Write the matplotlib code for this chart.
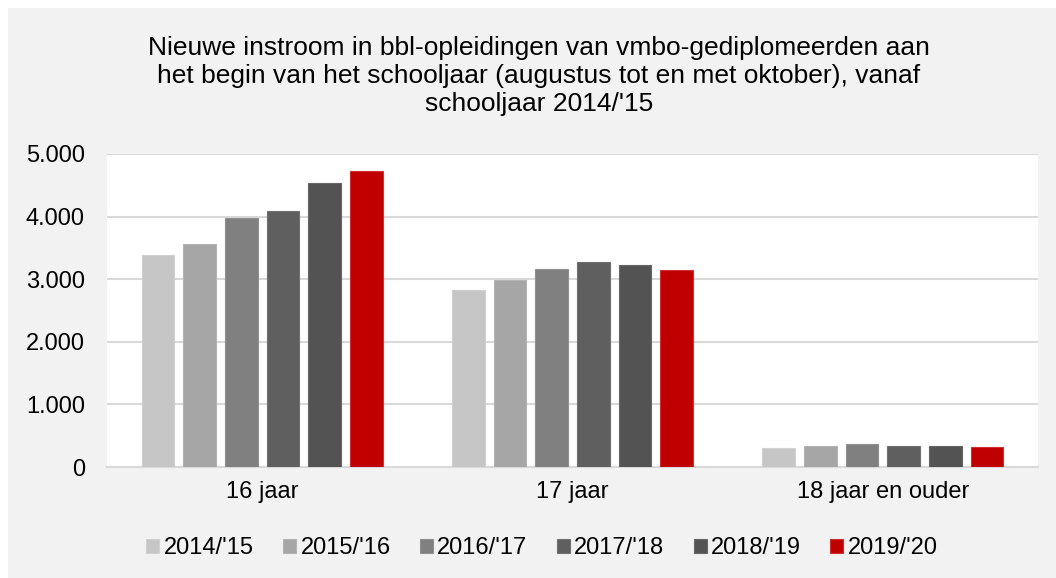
import matplotlib.pyplot as plt
import numpy as np
from matplotlib.patches import Rectangle
from matplotlib.ticker import FuncFormatter

plt.rcParams['font.family'] = ['Liberation Sans', 'DejaVu Sans']

# data
categories = ['16 jaar', '17 jaar', '18 jaar en ouder']
years = ["2014/'15", "2015/'16", "2016/'17", "2017/'18", "2018/'19", "2019/'20"]
v_2014 = [3380, 2835, 310]
v_2015 = [3560, 2985, 330]
v_2016 = [3975, 3170, 363]
v_2017 = [4090, 3270, 330]
v_2018 = [4530, 3225, 342]
v_2019 = [4730, 3140, 320]
series = [v_2014, v_2015, v_2016, v_2017, v_2018, v_2019]
colors = ['#C6C6C6', '#A6A6A6', '#808080', '#5F5F5F', '#535353', '#C00000']
edges = ['#D0D0D0', '#B4B4B4', '#909090', '#707070', '#666666', '#D03030']

W, H = 1056, 578
fig = plt.figure(figsize=(W / 100, H / 100), dpi=100)
fig.patch.set_facecolor('white')
fig.patches.append(Rectangle((8 / W, 0), 1, 1 - 8 / H, transform=fig.transFigure,
                             facecolor='#F2F2F2', edgecolor='none', zorder=-10))

ax = fig.add_axes([107 / W, 1 - 467 / H, (1038 - 107) / W, (467 - 154) / H])
ax.set_facecolor('white')

x = np.arange(len(categories))
step = 0.1343
width = 0.105
for i, (vals, c, ec) in enumerate(zip(series, colors, edges)):
    ax.bar(x + (i - 2.5) * step, vals, width, color=c, edgecolor=ec,
           linewidth=0.8, label=years[i], zorder=3)

ax.set_xlim(-0.5, 2.5)
ax.set_ylim(0, 5000)
ax.set_yticks(range(0, 5001, 1000))
ax.yaxis.set_major_formatter(FuncFormatter(lambda v, p: f'{int(v):,}'.replace(',', '.')))
ax.grid(axis='y', color='#D9D9D9', linewidth=1.5, zorder=0)
ax.set_xticks(x)
ax.set_xticklabels(categories)
for s in ['top', 'right', 'left']:
    ax.spines[s].set_visible(False)
ax.spines['bottom'].set_color('#D9D9D9')
ax.spines['bottom'].set_linewidth(1.5)
ax.tick_params(axis='both', length=0, labelsize=17, colors='black')
ax.tick_params(axis='x', pad=10)
ax.tick_params(axis='y', pad=16)

fig.text(539 / W, 1 - 76 / H,
         "Nieuwe instroom in bbl-opleidingen van vmbo-gediplomeerden aan\n"
         "het begin van het schooljaar (augustus tot en met oktober), vanaf\n"
         "schooljaar 2014/'15",
         ha='center', va='center', fontsize=19, linespacing=1.2)

fig.legend(loc='center', bbox_to_anchor=(542 / W, 1 - 548 / H), ncol=6,
           frameon=False, fontsize=17, handlelength=0.55, handleheight=0.55,
           handletextpad=0.2, columnspacing=1.23)

fig.savefig('out.png', dpi=100)
